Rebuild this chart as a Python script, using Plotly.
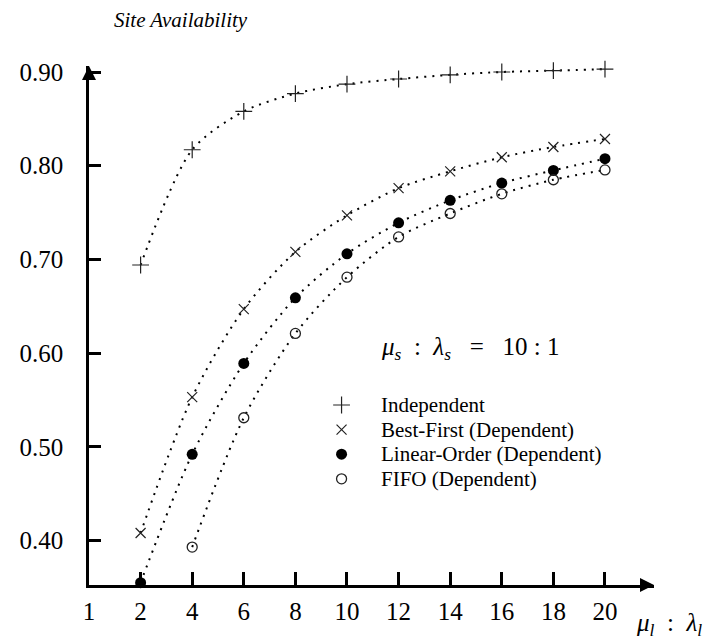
import plotly.graph_objects as go

# ---- data ----
ratio_l = [2, 4, 6, 8, 10, 12, 14, 16, 18, 20]
independent = [0.694, 0.817, 0.858, 0.877, 0.887, 0.8925, 0.897, 0.900, 0.9015, 0.903]
best_first = [0.408, 0.553, 0.647, 0.708, 0.747, 0.776, 0.794, 0.809, 0.820, 0.8285]
linear_order = [0.355, 0.492, 0.589, 0.659, 0.706, 0.739, 0.763, 0.7815, 0.795, 0.8075]
fifo = [None, 0.393, 0.531, 0.621, 0.681, 0.724, 0.749, 0.770, 0.785, 0.7955]

series_names = ["Independent", "Best-First (Dependent)", "Linear-Order (Dependent)", "FIFO (Dependent)"]
series_values = [independent, best_first, linear_order, fifo]

x_tickvals = [0, 2, 4, 6, 8, 10, 12, 14, 16, 18, 20]
x_ticktext = ["1", "2", "4", "6", "8", "10", "12", "14", "16", "18", "20"]
y_tickvals = [0.40, 0.50, 0.60, 0.70, 0.80, 0.90]
y_ticktext = ["0.40", "0.50", "0.60", "0.70", "0.80", "0.90"]

# ---- styles ----
FONT = "Liberation Serif, Times New Roman, serif"
markers = [
    dict(symbol="cross-thin-open", size=12, color="#222", line=dict(width=1.2, color="#222")),
    dict(symbol="x-thin-open", size=10, color="#222", line=dict(width=1.2, color="#222")),
    dict(symbol="circle", size=11, color="black", line=dict(width=0)),
    dict(symbol="circle-open", size=10, color="#222", line=dict(width=1.3, color="#222")),
]

fig = go.Figure()

for name, ys in zip(series_names, series_values):
    fig.add_trace(go.Scatter(
        x=ratio_l, y=ys, mode="lines", showlegend=False, connectgaps=False,
        line=dict(color="black", width=2, dash="2px,6px", shape="spline", smoothing=0.8),
        hoverinfo="skip", cliponaxis=False,
    ))

for name, ys, mk in zip(series_names, series_values, markers):
    fig.add_trace(go.Scatter(
        x=ratio_l, y=ys, mode="markers", name=name, marker=mk,
        cliponaxis=False, showlegend=False,
    ))

# ---- hand-made legend (keys on an overlay paper-like axis) ----
LEG_KEY_X = 0.447
LEG_TEXT_X = 0.514
LEG_TOP = 0.3468
LEG_STEP = 0.0474
for i, (name, mk) in enumerate(zip(series_names, markers)):
    yy = LEG_TOP - i * LEG_STEP
    fig.add_trace(go.Scatter(
        x=[LEG_KEY_X], y=[yy], mode="markers", marker=mk, xaxis="x2", yaxis="y2",
        showlegend=False, hoverinfo="skip", cliponaxis=False,
    ))
    fig.add_annotation(xref="paper", yref="paper", x=LEG_TEXT_X, y=yy,
                       xanchor="left", yanchor="middle", text=name, showarrow=False,
                       font=dict(family=FONT, size=21, color="black"))

fig.update_layout(
    width=718, height=641,
    margin=dict(l=81, r=72, t=58, b=64),
    paper_bgcolor="white", plot_bgcolor="white",
    font=dict(family=FONT, size=21, color="black"),
    showlegend=False,
    xaxis=dict(
        range=[0, 21.9], showgrid=False, zeroline=False, automargin=False,
        showline=True, linecolor="black", linewidth=2.5,
        ticks="inside", ticklen=13, tickwidth=2.5, tickcolor="black",
        tickvals=x_tickvals, ticktext=x_ticktext,
        tickfont=dict(family=FONT, size=25, color="black"),
        ticklabelstandoff=2,
    ),
    yaxis=dict(
        range=[0.3525, 0.9064], showgrid=False, zeroline=False, automargin=False,
        showline=True, linecolor="black", linewidth=2.5,
        ticks="inside", ticklen=12, tickwidth=2.5, tickcolor="black",
        tickvals=y_tickvals, ticktext=y_ticktext,
        tickfont=dict(family=FONT, size=25, color="black"),
        ticklabelstandoff=18,
    ),
    xaxis2=dict(overlaying="x", range=[0, 1], visible=False, showgrid=False, zeroline=False),
    yaxis2=dict(overlaying="y", range=[0, 1], visible=False, showgrid=False, zeroline=False),
)

# axis arrowheads
fig.add_annotation(xref="paper", yref="paper", x=0, y=1.0, ax=0, ay=12,
                   text="", showarrow=True, arrowhead=2, arrowsize=1.4, arrowwidth=2, arrowcolor="black")
fig.add_annotation(xref="paper", yref="paper", x=1.0, y=0, ax=-12, ay=0,
                   text="", showarrow=True, arrowhead=2, arrowsize=1.4, arrowwidth=2, arrowcolor="black")

# texts
NB = "\u00a0"
fig.add_annotation(xref="paper", yref="paper", x=0.041, y=1.089, xanchor="left", yanchor="middle",
                   text="<i>Site Availability</i>", showarrow=False,
                   font=dict(family=FONT, size=21, color="black"))
fig.add_annotation(xref="paper", yref="paper", x=0.514, y=0.455, xanchor="left", yanchor="middle",
                   text=(f"<i>μ<sub>s</sub></i>{NB*2}:{NB*2}<i>λ<sub>s</sub></i>"
                         f"{NB*3}={NB*3}10{NB}:{NB}1"),
                   showarrow=False, font=dict(family=FONT, size=25, color="black"))
fig.add_annotation(xref="paper", yref="paper", x=0.964, y=-0.077, xanchor="left", yanchor="middle",
                   text=f"<i>μ<sub>l</sub></i>{NB*2}:{NB*2}<i>λ<sub>l</sub></i>", showarrow=False,
                   font=dict(family=FONT, size=25, color="black"))

fig.write_html("out.html")
